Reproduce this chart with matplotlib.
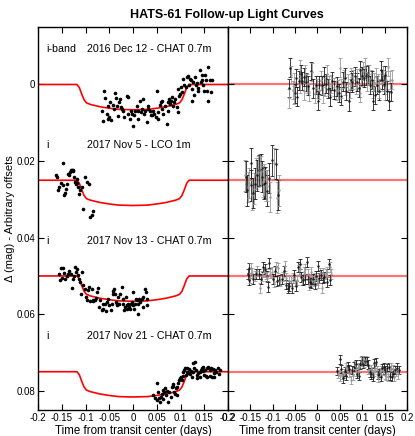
import numpy as np
import matplotlib
matplotlib.use('Agg')
from matplotlib import pyplot as plt

plt.rcParams['font.family'] = ['Liberation Sans', 'DejaVu Sans']

# offsets of the four light curves (mag)
offsets = [0.0, 0.025, 0.05, 0.075]
band_labels = ['i-band', 'i', 'i', 'i']
night_labels = ['2016 Dec 12 - CHAT 0.7m', '2017 Nov 5 - LCO 1m',
                '2017 Nov 13 - CHAT 0.7m', '2017 Nov 21 - CHAT 0.7m']
err_sizes = [0.0024, 0.004, 0.0013, 0.0011]

# transit model (depth in mag vs time)
model_t = [-0.2, -0.118, -0.113, -0.108, -0.103, -0.098, -0.09, -0.07, -0.05, -0.03, 0.0,
           0.03, 0.05, 0.07, 0.09, 0.098, 0.103, 0.108, 0.113, 0.118, 0.2]
model_dm = [0.0, 0.0, 0.0008, 0.0025, 0.0040, 0.0048, 0.0052, 0.0058, 0.0062, 0.0065, 0.0066,
            0.0065, 0.0062, 0.0058, 0.0052, 0.0048, 0.0040, 0.0025, 0.0008, 0.0, 0.0]

# 2016 Dec 12 - CHAT
t1 = [-0.0605, -0.0591, -0.0647, -0.0521, -0.0486, -0.0556, -0.0507, -0.0626, -0.0464, -0.0535,
      -0.0415, -0.0380, -0.0366, -0.0394, -0.0345, -0.0310, -0.0296, -0.0275, -0.0253, -0.0239,
      -0.0204, -0.0183, -0.0134, -0.0113, -0.0099, -0.0064, -0.0042, -0.0014, 0.0007, 0.0028,
      0.0042, 0.0077, 0.0098, 0.0112, 0.0147, 0.0168, 0.0183, 0.0218, 0.0239, 0.0253,
      0.0288, 0.0309, 0.0323, 0.0358, 0.0379, 0.0408, 0.0429, 0.0450, 0.0478, 0.0499,
      0.0520, 0.0534, 0.0569, 0.0590, 0.0604, 0.0619, 0.0640, 0.0675, 0.0710, 0.0731,
      0.0745, 0.0759, 0.0780, 0.0801, 0.0830, 0.0851, 0.0872, 0.0886, 0.0921, 0.0942,
      0.0956, 0.0970, 0.0991, 0.1012, 0.1040, 0.1062, 0.1083, 0.1111, 0.1132, 0.1153,
      0.1181, 0.1202, 0.1223, 0.1237, 0.1251, 0.1272, 0.1294, 0.1308, 0.1322, 0.1343,
      0.1364, 0.1378, 0.1413, 0.1434, 0.1448, 0.1462, 0.1484, 0.1505, 0.1519, 0.1533,
      0.1554, 0.1575, 0.1589, 0.1624, 0.1645, 0.1659]
m1 = [0.0016, 0.0036, 0.0068, 0.0055, 0.0046, 0.0076, 0.0085, 0.0096, 0.0094, 0.0089,
      0.0053, 0.0023, 0.0036, 0.0063, 0.0055, 0.0082, 0.0046, 0.0037, 0.0059, 0.0063,
      0.0068, 0.0085, 0.0030, 0.0033, 0.0076, 0.0089, 0.0068, 0.0076, 0.0108, 0.0080,
      0.0068, 0.0055, 0.0068, 0.0091, 0.0044, 0.0072, 0.0063, 0.0039, 0.0076, 0.0068,
      0.0098, 0.0063, 0.0055, 0.0070, 0.0079, 0.0080, 0.0068, 0.0076, 0.0085, 0.0018,
      0.0091, 0.0072, 0.0053, 0.0046, 0.0042, 0.0063, 0.0076, 0.0055, 0.0102, 0.0068,
      0.0046, 0.0037, 0.0050, 0.0042, 0.0033, 0.0055, 0.0046, 0.0037, 0.0059, 0.0072,
      0.0011, 0.0029, 0.0024, 0.0007, 0.0020, -0.0015, 0.0001, 0.0007, -0.0019, -0.0022,
      0.0001, -0.0015, -0.0011, 0.0011, 0.0042, -0.0006, 0.0027, -0.0019, 0.0002, -0.0004,
      0.0016, 0.0010, -0.0037, -0.0006, -0.0013, -0.0024, 0.0002, 0.0016, -0.0024, -0.0011,
      0.0016, -0.0046, 0.0042, -0.0011, 0.0020, -0.0013]

# 2017 Nov 5 - LCO
t2 = [-0.1484, -0.1624, -0.1596, -0.1554, -0.1575, -0.1526, -0.1484, -0.1456, -0.1435, -0.1413,
      -0.1399, -0.1364, -0.1343, -0.1329, -0.1315, -0.1294, -0.1273, -0.1259, -0.1245, -0.1224,
      -0.1202, -0.1188, -0.1174, -0.1153, -0.1132, -0.1118, -0.1083, -0.1062, -0.1013, -0.0977,
      -0.0921, -0.0907, -0.0872, -0.0851]
m2 = [0.0205, 0.0237, 0.0241, 0.0268, 0.0276, 0.0257, 0.0263, 0.0289, 0.0283, 0.0272,
      0.0259, 0.0233, 0.0237, 0.0228, 0.0224, 0.0222, 0.0222, 0.0226, 0.0241, 0.0254,
      0.0259, 0.0248, 0.0257, 0.0268, 0.0285, 0.0276, 0.0268, 0.0324, 0.0241, 0.0254,
      0.0259, 0.0347, 0.0341, 0.0330]

# 2017 Nov 13 - CHAT
t3 = [-0.1526, -0.1484, -0.1554, -0.1456, -0.1540, -0.1505, -0.1435, -0.1399, -0.1364, -0.1343,
      -0.1315, -0.1294, -0.1273, -0.1245, -0.1224, -0.1202, -0.1174, -0.1153, -0.1132, -0.1118,
      -0.1083, -0.1062, -0.1104, -0.1013, -0.0992, -0.0977, -0.0942, -0.0921, -0.0907, -0.0872,
      -0.0851, -0.0837, -0.0802, -0.0781, -0.0752, -0.0731, -0.0710, -0.0696, -0.0661, -0.0640,
      -0.0626, -0.0591, -0.0570, -0.0556, -0.0520, -0.0499, -0.0471, -0.0450, -0.0429, -0.0415,
      -0.0401, -0.0380, -0.0359, -0.0345, -0.0331, -0.0309, -0.0288, -0.0274, -0.0239, -0.0218,
      -0.0204, -0.0190, -0.0169, -0.0148, -0.0134, -0.0120, -0.0098, -0.0077, -0.0063, -0.0049,
      -0.0028, -0.0007, 0.0007, 0.0021, 0.0042, 0.0063, 0.0077, 0.0098, 0.0112, 0.0134,
      0.0148, 0.0183, 0.0204, 0.0218, 0.0253, 0.0274, 0.0288, 0.0302]
m3 = [0.0479, 0.0480, 0.0494, 0.0491, 0.0511, 0.0505, 0.0508, 0.0500, 0.0494, 0.0487,
      0.0496, 0.0531, 0.0507, 0.0500, 0.0476, 0.0489, 0.0482, 0.0498, 0.0508, 0.0515,
      0.0489, 0.0524, 0.0546, 0.0533, 0.0554, 0.0563, 0.0537, 0.0528, 0.0566, 0.0533,
      0.0563, 0.0566, 0.0563, 0.0557, 0.0543, 0.0531, 0.0580, 0.0563, 0.0589, 0.0572,
      0.0585, 0.0574, 0.0592, 0.0567, 0.0559, 0.0576, 0.0589, 0.0574, 0.0540, 0.0548,
      0.0533, 0.0546, 0.0567, 0.0576, 0.0574, 0.0554, 0.0572, 0.0546, 0.0528, 0.0559,
      0.0572, 0.0589, 0.0580, 0.0554, 0.0585, 0.0576, 0.0574, 0.0580, 0.0586, 0.0572,
      0.0567, 0.0576, 0.0541, 0.0585, 0.0572, 0.0559, 0.0563, 0.0598, 0.0572, 0.0559,
      0.0567, 0.0559, 0.0580, 0.0554, 0.0533, 0.0541, 0.0576, 0.0559]

# 2017 Nov 21 - CHAT
t4 = [0.0429, 0.0464, 0.0499, 0.0513, 0.0534, 0.0556, 0.0570, 0.0584, 0.0605, 0.0626,
      0.0640, 0.0654, 0.0675, 0.0696, 0.0710, 0.0745, 0.0767, 0.0795, 0.0816, 0.0837,
      0.0851, 0.0865, 0.0886, 0.0907, 0.0921, 0.0935, 0.0956, 0.0978, 0.0992, 0.1006,
      0.1027, 0.1048, 0.1062, 0.1076, 0.1097, 0.1118, 0.1132, 0.1146, 0.1167, 0.1188,
      0.1203, 0.1217, 0.1238, 0.1259, 0.1273, 0.1287, 0.1308, 0.1329, 0.1343, 0.1357,
      0.1378, 0.1400, 0.1414, 0.1428, 0.1449, 0.1470, 0.1484, 0.1498, 0.1519, 0.1540,
      0.1554, 0.1568, 0.1589, 0.1611, 0.1625, 0.1639, 0.1660, 0.1681, 0.1695, 0.1709,
      0.1730, 0.1751, 0.1780, 0.1801, 0.1822]
m4 = [0.0811, 0.0818, 0.0780, 0.0824, 0.0804, 0.0819, 0.0828, 0.0815, 0.0809, 0.0798,
      0.0821, 0.0802, 0.0793, 0.0811, 0.0800, 0.0828, 0.0802, 0.0815, 0.0791, 0.0786,
      0.0783, 0.0802, 0.0809, 0.0793, 0.0812, 0.0789, 0.0780, 0.0771, 0.0767, 0.0765,
      0.0771, 0.0760, 0.0752, 0.0745, 0.0741, 0.0758, 0.0739, 0.0750, 0.0754, 0.0743,
      0.0757, 0.0748, 0.0763, 0.0750, 0.0728, 0.0741, 0.0725, 0.0745, 0.0758, 0.0767,
      0.0754, 0.0751, 0.0763, 0.0745, 0.0741, 0.0748, 0.0737, 0.0758, 0.0745, 0.0760,
      0.0741, 0.0763, 0.0737, 0.0745, 0.0760, 0.0739, 0.0763, 0.0743, 0.0754, 0.0763,
      0.0745, 0.0750, 0.0739, 0.0757, 0.0745]

times = [t1, t2, t3, t4]
mags = [m1, m2, m3, m4]

xticks = [-0.2, -0.15, -0.1, -0.05, 0, 0.05, 0.1, 0.15, 0.2]
xticklabels = ['-0.2', '-0.15', '-0.1', '-0.05', '0', '0.05', '0.1', '0.15', '0.2']
yticks = [0, 0.02, 0.04, 0.06, 0.08]
yticklabels = ['0', '0.02', '0.04', '0.06', '0.08']

fig = plt.figure(figsize=(4.15, 4.36), dpi=100)
ax_l = fig.add_axes([0.0916, 0.0596, 0.4578, 0.8784])
ax_r = fig.add_axes([0.5494, 0.0596, 0.4313, 0.8784])

for i in range(4):
    off = offsets[i]
    t = np.array(times[i])
    m = np.array(mags[i])
    # left: photometry + model
    ax_l.plot(model_t, np.array(model_dm) + off, color='red', lw=1.2, zorder=2)
    ax_l.plot(t, m, 'o', color='black', ms=2.6, mec='none', zorder=3)
    ax_l.text(-0.182, off - 0.0092, band_labels[i], fontsize=7.7, va='center', ha='left')
    ax_l.text(-0.096, off - 0.0092, night_labels[i], fontsize=7.7, va='center', ha='left')

    # right: residuals with error bars
    resid = m - np.interp(t, model_t, model_dm)
    ax_r.axhline(off, color='red', lw=1.6, alpha=0.55, zorder=1)
    for j in range(len(t)):
        col = '0.1' if j % 2 == 0 else '0.6'
        ax_r.errorbar(t[j], resid[j], yerr=err_sizes[i], fmt='.', color=col,
                      ms=1.5, elinewidth=0.6, capsize=1.5, capthick=0.6, zorder=2)

for ax in (ax_l, ax_r):
    ax.set_xlim(-0.2, 0.2)
    ax.set_ylim(0.085, -0.015)
    ax.set_xticks(xticks)
    ax.set_xticklabels(xticklabels, fontsize=7)
    ax.set_yticks(yticks)
    ax.tick_params(direction='in', top=True, right=True, length=4, width=0.8, pad=2)
    ax.set_xlabel('Time from transit center (days)', fontsize=8.3, labelpad=1.5)
    for s in ax.spines.values():
        s.set_linewidth(1.0)

ax_l.set_yticklabels(yticklabels, fontsize=7)
ax_r.set_yticklabels([])
ax_l.set_ylabel('Δ (mag) - Arbitrary offsets', fontsize=8, labelpad=1)

fig.text(0.547, 0.965, 'HATS-61 Follow-up Light Curves', fontsize=9, fontweight='bold',
         ha='center', va='center')

plt.savefig('out.png', dpi=100)
plt.close()
